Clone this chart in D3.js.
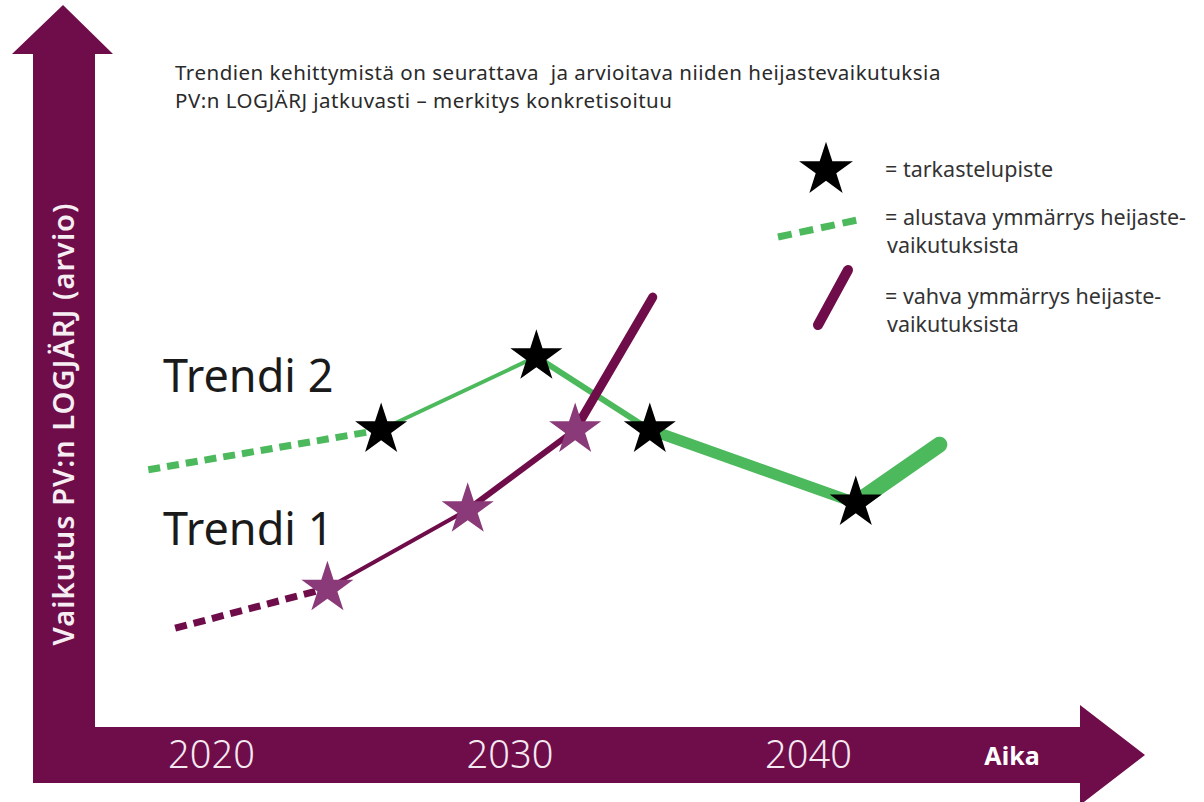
<!DOCTYPE html>
<html>
<head>
<meta charset="utf-8">
<script src="https://d3js.org/d3.v7.min.js"></script>
<style>
    body { margin: 0; background: #ffffff; }
    text { font-family: "Noto Sans", "Open Sans", sans-serif; }
    .title { font-size: 20.5px; letter-spacing: 0.5px; fill: #2a2a2a; white-space: pre; }
    .legend-text { font-size: 21.5px; fill: #333333; }
    .trend-label { font-size: 45px; fill: #1a1a1a; }
    .tick text { font-size: 38px; fill: #f4e9f0; font-weight: 300; }
</style>
</head>
<body>
<div id="viz_container"></div>
<script>
    // chart values (years on x, estimated impact on y)
    const tickYears = [2020, 2030, 2040];

    const trend2Years  = [2017.9, 2025.7, 2030.9, 2034.7, 2041.6, 2044.4];
    const trend2Values = [3.80, 4.39, 5.47, 4.39, 3.31, 4.17];
    const trend2Stars  = [1, 2, 3, 4];

    const trend1Years  = [2018.8, 2023.9, 2028.6, 2032.2, 2034.8];
    const trend1Values = [1.46, 2.05, 3.21, 4.39, 6.35];
    const trend1Stars  = [1, 2, 3];

    const titleLines = [
        "Trendien kehittymistä on seurattava  ja arvioitava niiden heijastevaikutuksia",
        "PV:n LOGJÄRJ jatkuvasti – merkitys konkretisoituu"
    ];
    const legendLabels = [
        ["= tarkastelupiste"],
        ["= alustava ymmärrys heijaste-", "vaikutuksista"],
        ["= vahva ymmärrys heijaste-", "vaikutuksista"]
    ];

    // styles
    const plum = "#6f0c4a";
    const green = "#4cb95c";
    const starPurple = "#8a3a78";
    // width of each segment (index = segment start), "dash" = dashed start
    const trend2Widths = ["dash", 4, 6, 11, 16];
    const trend1Widths = ["dash", 4, 6, 9];

    const W = 1204, H = 802;
    const svg = d3.select("#viz_container")
        .append("svg")
        .attr("width", W)
        .attr("height", H);

    const xScale = d3.scaleLinear().domain([2020, 2040]).range([211, 808]);
    const yScale = d3.scaleLinear().domain([0, 10]).range([727, 50]);

    // axis arrows
    const shaftL = 33, shaftR = 95, baseY = yScale(0), bottomY = 783;
    svg.append("path")
        .attr("fill", plum)
        .attr("d", `M${shaftL},${bottomY} L${shaftL},54 L12,54 L63,5 L113,54 L${shaftR},54 L${shaftR},${baseY}
                    L1080,${baseY} L1080,705 L1145,755 L1080,805 L1080,${bottomY} Z`);

    // x axis ticks
    const xAxis = svg.append("g")
        .attr("transform", `translate(0, ${baseY})`)
        .call(d3.axisBottom(xScale).tickValues(tickYears).tickFormat(d3.format("d")).tickSize(0).tickPadding(10))
        .call(g => g.select(".domain").remove());
    xAxis.selectAll(".tick text").attr("dy", "0.82em");

    svg.append("text")
        .attr("x", 1012).attr("y", 765)
        .attr("text-anchor", "middle")
        .style("font-size", "25px").style("font-weight", 700).style("fill", "#ffffff")
        .text("Aika");

    // y axis label
    svg.append("text")
        .attr("transform", `translate(74, 424) rotate(-90)`)
        .attr("text-anchor", "middle")
        .style("font-size", "29px").style("font-weight", 600).style("fill", "#f6eef3")
        .style("letter-spacing", "1px")
        .text("Vaikutus PV:n LOGJÄRJ (arvio)");

    // title
    svg.selectAll("text.title")
        .data(titleLines)
        .join("text")
        .attr("class", "title")
        .attr("x", 175)
        .attr("y", (d, i) => 80 + i * 28)
        .text(d => d);

    // trend lines
    function drawTrend(years, values, widths, color) {
        const pts = years.map((y, i) => [xScale(y), yScale(values[i])]);
        const segs = d3.range(pts.length - 1).map(i => ({a: pts[i], b: pts[i + 1], w: widths[i], last: i === pts.length - 2}));
        svg.append("g")
            .selectAll("line")
            .data(segs)
            .join("line")
            .attr("x1", d => d.a[0]).attr("y1", d => d.a[1])
            .attr("x2", d => d.b[0]).attr("y2", d => d.b[1])
            .attr("stroke", color)
            .attr("stroke-width", d => d.w === "dash" ? 7 : d.w)
            .attr("stroke-dasharray", d => d.w === "dash" ? "12 7" : null)
            .attr("stroke-linecap", d => d.last ? "round" : "butt");
        // joins between solid segments
        svg.append("g")
            .selectAll("circle")
            .data(segs.filter((d, i) => i > 0 && !d.last))
            .join("circle")
            .attr("cx", d => d.b[0]).attr("cy", d => d.b[1])
            .attr("r", d => d.w / 2)
            .attr("fill", color);
        return pts;
    }

    const star = d3.symbol().type(d3.symbolStar).size(840);

    const p2 = drawTrend(trend2Years, trend2Values, trend2Widths, green);
    const p1 = drawTrend(trend1Years, trend1Values, trend1Widths, plum);

    svg.append("g")
        .selectAll("path")
        .data(trend1Stars.map(i => p1[i]))
        .join("path")
        .attr("transform", d => `translate(${d[0]}, ${d[1]})`)
        .attr("d", star)
        .attr("fill", starPurple);

    svg.append("g")
        .selectAll("path")
        .data(trend2Stars.map(i => p2[i]))
        .join("path")
        .attr("transform", d => `translate(${d[0]}, ${d[1]})`)
        .attr("d", star)
        .attr("fill", "#000000");

    // trend labels
    svg.append("text").attr("class", "trend-label").attr("x", 163).attr("y", 392).text("Trendi 2");
    svg.append("text").attr("class", "trend-label").attr("x", 163).attr("y", 545).text("Trendi 1");

    // legend
    svg.append("path")
        .attr("transform", "translate(826, 170)")
        .attr("d", d3.symbol().type(d3.symbolStar).size(900))
        .attr("fill", "#000000");
    svg.append("line")
        .attr("x1", 778).attr("y1", 237).attr("x2", 862).attr("y2", 219)
        .attr("stroke", green).attr("stroke-width", 7).attr("stroke-dasharray", "14 8");
    svg.append("line")
        .attr("x1", 818).attr("y1", 325).attr("x2", 848).attr("y2", 270)
        .attr("stroke", plum).attr("stroke-width", 10).attr("stroke-linecap", "round");

    const legendY = [177, 225, 304];
    legendLabels.forEach((lines, k) => {
        svg.selectAll(null)
            .data(lines)
            .join("text")
            .attr("class", "legend-text")
            .attr("x", (d, i) => i === 0 ? 885 : 887)
            .attr("y", (d, i) => legendY[k] + i * 28)
            .text(d => d);
    });
</script>
</body>
</html>
